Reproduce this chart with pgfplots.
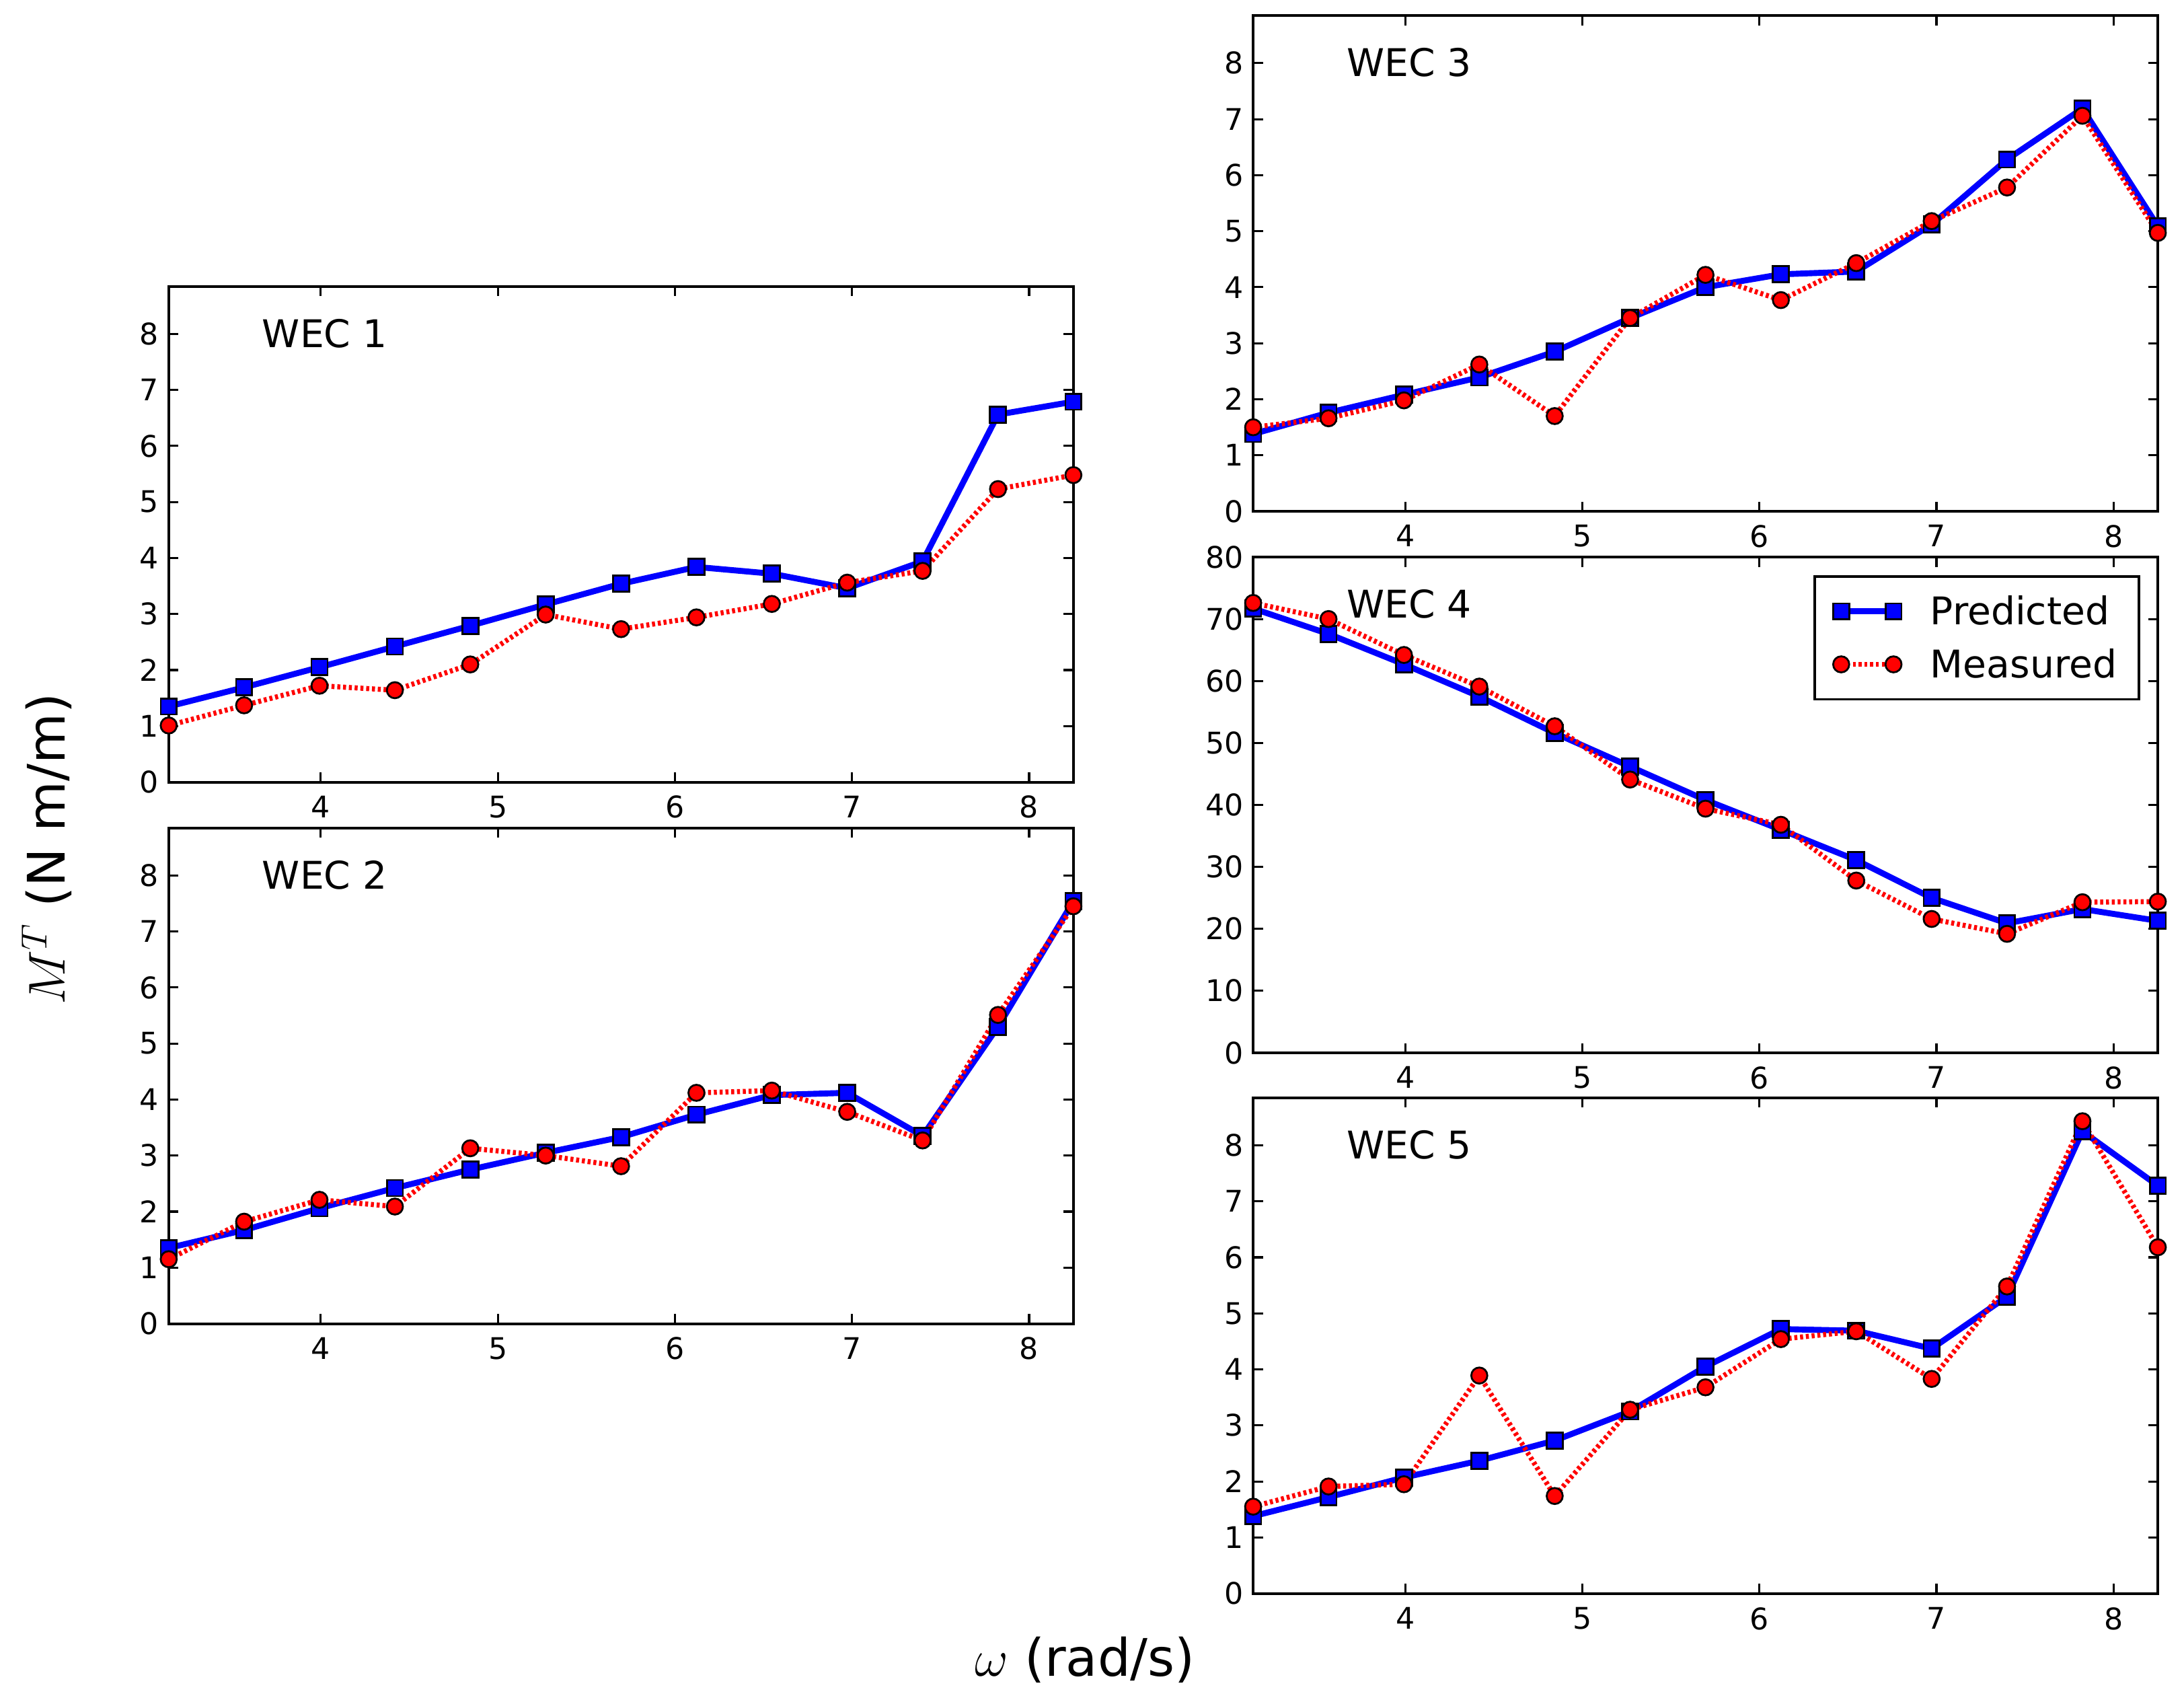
\documentclass[border=0pt]{standalone}
\usepackage{fix-cm}
\usepackage{fontspec}
\setmainfont{DejaVu Sans}
\usepackage{pgfplots}
\usepackage{pgfplotstable}
\pgfplotsset{compat=1.18}

\pgfplotstableread{
x p m
3.1416 1.35 1.01
3.5673 1.69 1.37
3.9930 2.05 1.72
4.4187 2.42 1.64
4.8444 2.79 2.10
5.2701 3.17 2.99
5.6958 3.54 2.73
6.1215 3.84 2.94
6.5472 3.72 3.18
6.9729 3.46 3.56
7.3986 3.94 3.77
7.8243 6.56 5.23
8.2500 6.79 5.48
}\wecone
\pgfplotstableread{
x p m
3.1416 1.35 1.15
3.5673 1.67 1.82
3.9930 2.06 2.21
4.4187 2.42 2.09
4.8444 2.75 3.13
5.2701 3.05 3.00
5.6958 3.33 2.81
6.1215 3.73 4.12
6.5472 4.08 4.16
6.9729 4.12 3.78
7.3986 3.35 3.27
7.8243 5.30 5.51
8.2500 7.54 7.45
}\wectwo
\pgfplotstableread{
x p m
3.1416 1.38 1.50
3.5673 1.76 1.66
3.9930 2.08 1.98
4.4187 2.39 2.62
4.8444 2.85 1.70
5.2701 3.45 3.45
5.6958 4.00 4.22
6.1215 4.23 3.77
6.5472 4.28 4.43
6.9729 5.12 5.18
7.3986 6.28 5.78
7.8243 7.19 7.06
8.2500 5.09 4.97
}\wecthree
\pgfplotstableread{
x p m
3.1416 71.7 72.6
3.5673 67.6 70.0
3.9930 62.7 64.2
4.4187 57.5 59.1
4.8444 51.6 52.7
5.2701 46.2 44.1
5.6958 40.8 39.4
6.1215 36.0 36.8
6.5472 31.1 27.8
6.9729 25.0 21.6
7.3986 20.9 19.2
7.8243 23.2 24.3
8.2500 21.3 24.4
}\wecfour
\pgfplotstableread{
x p m
3.1416 1.38 1.55
3.5673 1.72 1.91
3.9930 2.07 1.95
4.4187 2.37 3.89
4.8444 2.73 1.74
5.2701 3.25 3.28
5.6958 4.05 3.68
6.1215 4.72 4.54
6.5472 4.69 4.68
6.9729 4.37 3.83
7.3986 5.30 5.48
7.8243 8.25 8.43
8.2500 7.28 6.18
}\wecfive

\pgfplotsset{
  wec/.style={
    scale only axis,
    width=484.2bp, height=265.3bp,
    xmin=3.1416, xmax=8.25, ymin=0, ymax=8.85,
    xtick={4,5,6,7,8}, ytick={0,1,...,8},
    axis line style={line width=1.44bp, black},
    tick style={line width=1.1bp, black},
    major tick length=5.2bp,
    tick align=inside,
    xtick pos=both, ytick pos=both,
    /pgf/number format/assume math mode=true,
    every tick label/.append style={font=\fontsize{16}{19}\selectfont, inner sep=0pt},
    xticklabel shift=7.2bp, yticklabel shift=5.1bp,
  },
  pred/.style={blue, line width=3.2bp, mark=square*, mark size=4.3bp,
    mark options={solid, fill=blue, draw=black, line width=1bp}},
  meas/.style={red, line width=2.7bp, dash pattern=on 1.6bp off 1.5bp, mark=*, mark size=4.3bp,
    mark options={solid, fill=red, draw=black, line width=1bp}},
}
\tikzset{weclabel/.style={anchor=base west, inner sep=0pt, font=\fontsize{20.5}{24}\selectfont}}

\begin{document}
\begin{tikzpicture}
\useasboundingbox (0,0) rectangle (1168.92bp,-909.72bp);

% WEC 1
\begin{axis}[wec, at={(90.3bp,-153.2bp)}, anchor=north west]
\addplot[pred] table[x=x,y=p] {\wecone};
\addplot[meas] table[x=x,y=m] {\wecone};
\node[weclabel] at (axis description cs:0.103,0.877) {WEC 1};
\end{axis}

% WEC 2
\begin{axis}[wec, at={(90.3bp,-443.0bp)}, anchor=north west]
\addplot[pred] table[x=x,y=p] {\wectwo};
\addplot[meas] table[x=x,y=m] {\wectwo};
\node[weclabel] at (axis description cs:0.103,0.877) {WEC 2};
\end{axis}

% WEC 3
\begin{axis}[wec, at={(670.7bp,-8.3bp)}, anchor=north west]
\addplot[pred] table[x=x,y=p] {\wecthree};
\addplot[meas] table[x=x,y=m] {\wecthree};
\node[weclabel] at (axis description cs:0.103,0.877) {WEC 3};
\end{axis}

% WEC 4
\begin{axis}[wec, at={(670.7bp,-298.1bp)}, anchor=north west,
  ymax=80, ytick={0,10,...,80},
  legend cell align=left,
  legend image code/.code={\draw[#1] plot coordinates {(0bp,0bp) (28bp,0bp)};},
  legend style={at={(1,1)}, anchor=north east, xshift=-9.3bp, yshift=-9.7bp,
    draw=black, line width=1.4bp, fill=white,
    font=\fontsize{20.5}{24}\selectfont,
    inner xsep=10bp, inner ysep=8.2bp,
    nodes={inner sep=2bp, text depth=0.15em},
    row sep=7.3bp,
    /tikz/every odd column/.append style={column sep=13.4bp}},
]
\addplot[pred] table[x=x,y=p] {\wecfour};
\addlegendentry{Predicted}
\addplot[meas] table[x=x,y=m] {\wecfour};
\addlegendentry{Measured}
\node[weclabel] at (axis description cs:0.103,0.877) {WEC 4};
\end{axis}

% WEC 5
\begin{axis}[wec, at={(670.7bp,-587.4bp)}, anchor=north west]
\addplot[pred] table[x=x,y=p] {\wecfive};
\addplot[meas] table[x=x,y=m] {\wecfive};
\node[weclabel] at (axis description cs:0.103,0.877) {WEC 5};
\end{axis}

\node[anchor=base, inner sep=0pt, font=\fontsize{27.8}{32}\selectfont] at (580.7bp,-897.0bp) {$\omega$ (rad/s)};
\node[anchor=base, inner sep=0pt, rotate=90, font=\fontsize{27.8}{32}\selectfont] at (34.9bp,-454.3bp) {$M^T$ (N m/m)};
\end{tikzpicture}
\end{document}
